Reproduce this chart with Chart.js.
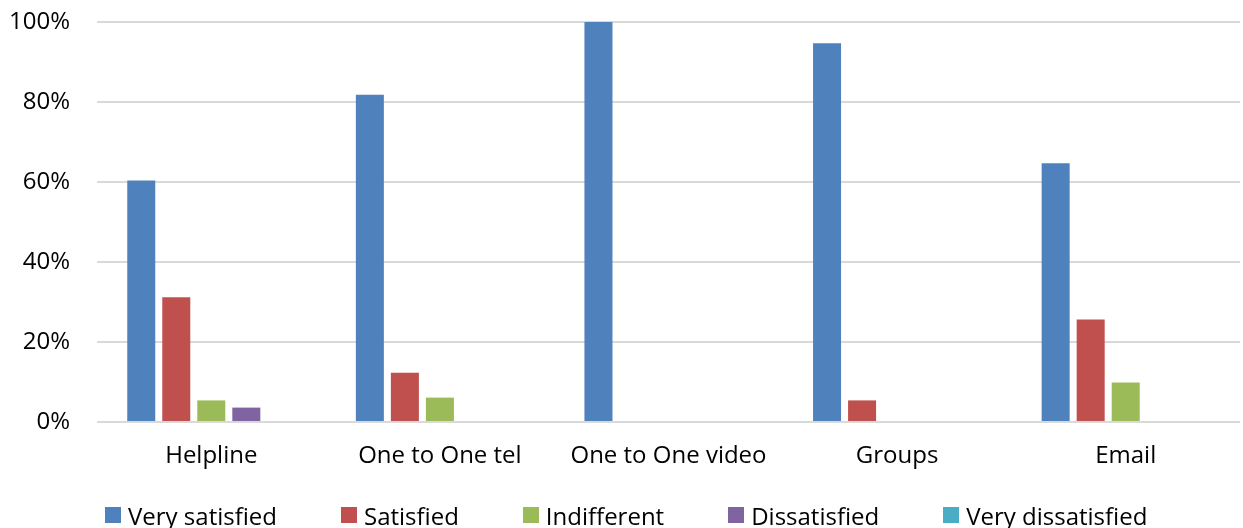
<!DOCTYPE html>
<html>
<head>
<meta charset="utf-8">
<title>Satisfaction by service</title>
<script src="https://cdn.jsdelivr.net/npm/chart.js@4.4.1/dist/chart.umd.min.js"></script>
<style>
  html, body { margin: 0; padding: 0; background: #ffffff; }
  #wrap { position: relative; width: 1243px; height: 528px; overflow: hidden; }
  #chart { position: absolute; left: 0; top: 0; }
  #legend {
    position: absolute; left: 105px; top: 499px; height: 32px;
    display: flex; align-items: center; gap: 64px;
    font-family: "Open Sans", sans-serif; font-size: 24px; color: #000;
    white-space: nowrap;
  }
  #legend .item { display: flex; align-items: center; }
  #legend .box { width: 16px; height: 16px; margin-right: 7px; }
</style>
</head>
<body>
<div id="wrap">
  <canvas id="chart" width="1243" height="528"></canvas>
  <div id="legend"></div>
</div>
<script>
// Services surveyed
const categories = ["Helpline", "One to One tel", "One to One video", "Groups", "Email"];

// Share of respondents (%) per rating, one value per service
const verySatisfied    = [60.4, 81.8, 100, 94.7, 64.7];
const satisfied        = [31.2, 12.3, 0, 5.4, 25.6];
const indifferent      = [5.4, 6.1, 0, 0, 9.9];
const dissatisfied     = [3.6, 0, 0, 0, 0];
const veryDissatisfied = [0, 0, 0, 0, 0];

const seriesNames = ["Very satisfied", "Satisfied", "Indifferent", "Dissatisfied", "Very dissatisfied"];
const seriesValues = [verySatisfied, satisfied, indifferent, dissatisfied, veryDissatisfied];
const seriesColors = ["#4F81BD", "#C0504D", "#9BBB59", "#8064A2", "#4BACC6"];

// Y axis ticks
const yTicks = [0, 20, 40, 60, 80, 100];

const FONT = { family: '"Open Sans", sans-serif', size: 24 };

function build() {
  const ctx = document.getElementById("chart").getContext("2d");
  const chart = new Chart(ctx, {
    type: "bar",
    data: {
      labels: categories,
      datasets: seriesNames.map((name, i) => ({
        label: name,
        data: seriesValues[i],
        backgroundColor: seriesColors[i],
        borderWidth: 0,
        categoryPercentage: 0.766,
        barPercentage: 0.8
      }))
    },
    options: {
      responsive: false,
      animation: false,
      layout: { padding: { left: 0, right: 3, top: 22, bottom: 46 } },
      plugins: {
        legend: { display: false },
        tooltip: { enabled: false }
      },
      scales: {
        x: {
          grid: { display: false, drawTicks: false },
          border: { display: false },
          ticks: { font: FONT, color: "#000", padding: 20, maxRotation: 0, autoSkip: false },
          afterFit: s => { s.height = 60; }
        },
        y: {
          min: 0,
          max: 100,
          afterBuildTicks: s => { s.ticks = yTicks.map(v => ({ value: v })); },
          grid: { color: "#d9d9d9", lineWidth: 2, drawTicks: false },
          border: { display: false },
          ticks: { font: FONT, color: "#000", padding: 27, callback: v => v + "%" },
          afterFit: s => {
            s.width = 97;
            s.paddingTop = 12;
            s.paddingBottom = 0;
          }
        }
      }
    }
  });

  // Legend row built from the chart's own legend items
  const legend = document.getElementById("legend");
  const items = chart.options.plugins.legend.labels.generateLabels(chart);
  items.forEach(it => {
    const el = document.createElement("div");
    el.className = "item";
    const box = document.createElement("span");
    box.className = "box";
    box.style.background = it.fillStyle;
    const txt = document.createElement("span");
    txt.textContent = it.text;
    el.appendChild(box);
    el.appendChild(txt);
    legend.appendChild(el);
  });
}

if (document.fonts && document.fonts.load) {
  document.fonts.load('24px "Open Sans"').then(build, build);
} else {
  build();
}
</script>
</body>
</html>
